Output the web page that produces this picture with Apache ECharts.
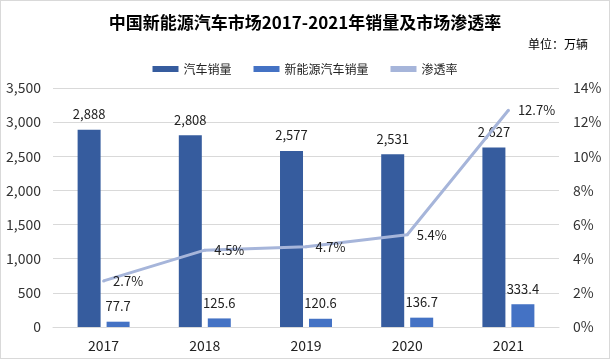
<!DOCTYPE html>
<html><head><meta charset="utf-8">
<script src="https://cdn.jsdelivr.net/npm/echarts@6/dist/echarts.min.js"></script>
<style>html,body{margin:0;padding:0;background:#fff}#c{width:608px;height:357px;border:1px solid #d9d9d9}</style>
</head><body><div id="c"></div>
<script>
const categories = ['2017','2018','2019','2020','2021'];
const carSales = [2888, 2808, 2577, 2531, 2627];
const nevSales = [77.7, 125.6, 120.6, 136.7, 333.4];
const penetration = [2.7, 4.5, 4.7, 5.4, 12.7];
const font = '"Microsoft YaHei","Noto Sans CJK SC",sans-serif';
const chart = echarts.init(document.getElementById('c'));
chart.setOption({
  animation:false,
  textStyle:{fontFamily:font},
  title:{text:'中国新能源汽车市场2017-2021年销量及市场渗透率',left:'center',top:8,
    textStyle:{fontSize:17,fontWeight:'bold',color:'#000',fontFamily:font}},
  graphic:[{type:'text',right:21,top:37,style:{text:'单位：万辆',font:'12px '+font,fill:'#000'}}],
  legend:{top:57,left:'center',itemWidth:26,itemHeight:6,itemGap:22,
    textStyle:{fontSize:12,color:'#222',fontFamily:font},
    data:[{name:'汽车销量',icon:'rect'},{name:'新能源汽车销量',icon:'rect'},{name:'渗透率',icon:'rect'}]},
  grid:{left:52,right:50,top:87,bottom:31},
  xAxis:{type:'category',data:categories,
    axisLine:{lineStyle:{color:'#d9d9d9'}},axisTick:{show:false},
    axisLabel:{fontSize:14,color:'#222',margin:12}},
  yAxis:[{type:'value',min:0,max:3500,interval:500,
    axisLabel:{fontSize:14,color:'#333',margin:12,formatter:v=>v.toLocaleString('en-US')},
    splitLine:{lineStyle:{color:'#d9d9d9'}},axisLine:{show:false},axisTick:{show:false}},
    {type:'value',min:0,max:14,interval:2,position:'right',
    axisLabel:{fontSize:14,color:'#333',margin:14,formatter:'{value}%'},
    splitLine:{show:false},axisLine:{show:false},axisTick:{show:false}}],
  series:[
    {name:'汽车销量',type:'bar',data:carSales,barWidth:23,barGap:'26%',
     itemStyle:{color:'#365C9E'},
     label:{show:true,position:'top',distance:9,fontSize:13,color:'#222',
       formatter:p=>p.value.toLocaleString('en-US')}},
    {name:'新能源汽车销量',type:'bar',data:nevSales,barWidth:23,
     itemStyle:{color:'#4472C4'},
     label:{show:true,position:'top',distance:9,fontSize:13,color:'#222',
       formatter:p=>p.value.toFixed(1)}},
    {name:'渗透率',type:'line',yAxisIndex:1,data:penetration,symbol:'circle',symbolSize:3,showSymbol:true,
     lineStyle:{color:'#A6B5DA',width:3},itemStyle:{color:'#A6B5DA'},
     label:{show:true,position:'right',distance:8,fontSize:13,color:'#222',
       formatter:p=>p.value.toFixed(1)+'%'}}
  ]
});
</script></body></html>
